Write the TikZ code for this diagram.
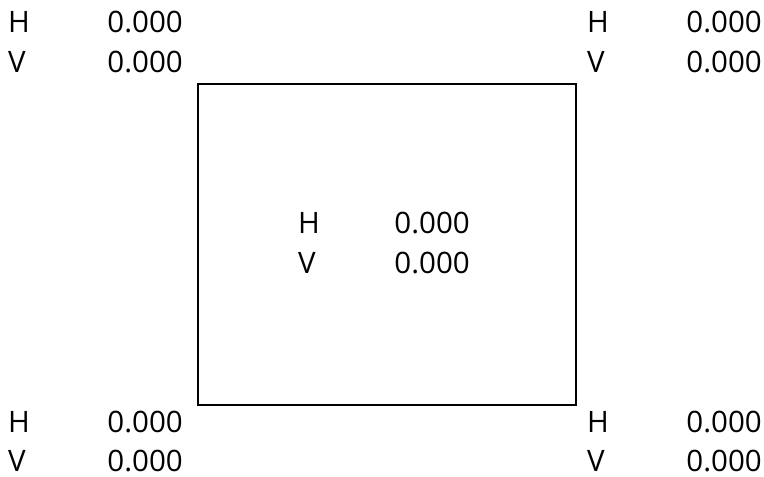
\documentclass[tikz,border=0pt]{standalone}
\usepackage{fontspec}
\setmainfont{Open Sans}
\begin{document}
\begin{tikzpicture}[x=1pt,y=-1pt,
  lab/.style={inner sep=0pt,anchor=base west,font=\fontsize{29.5}{33}\selectfont},
  val/.style={inner sep=0pt,anchor=base east,font=\fontsize{29.5}{33}\selectfont},
  frame/.style={draw=black,line width=2pt}]
\useasboundingbox (0,0) rectangle (764,477);
\node[frame,minimum width=378pt,minimum height=321pt,inner sep=0pt,anchor=north west] (box) at (197,82.5) {};
% top left
\node[lab] (tlh) at (8,32) {H};
\node[val] (tlhv) at (183,32) {0.000};
\node[lab] (tlv) at (8,72) {V};
\node[val] (tlvv) at (183,72) {0.000};
% top right
\node[lab] (trh) at (587,32) {H};
\node[val] (trhv) at (762,32) {0.000};
\node[lab] (trv) at (587,72) {V};
\node[val] (trvv) at (762,72) {0.000};
% center
\node[lab] (ch) at (298,233) {H};
\node[val] (chv) at (470,233) {0.000};
\node[lab] (cv) at (298,273) {V};
\node[val] (cvv) at (470,273) {0.000};
% bottom left
\node[lab] (blh) at (8,432) {H};
\node[val] (blhv) at (183,432) {0.000};
\node[lab] (blv) at (8,471.5) {V};
\node[val] (blvv) at (183,471.5) {0.000};
% bottom right
\node[lab] (brh) at (587,432) {H};
\node[val] (brhv) at (762,432) {0.000};
\node[lab] (brv) at (587,471.5) {V};
\node[val] (brvv) at (762,471.5) {0.000};
\end{tikzpicture}
\end{document}
